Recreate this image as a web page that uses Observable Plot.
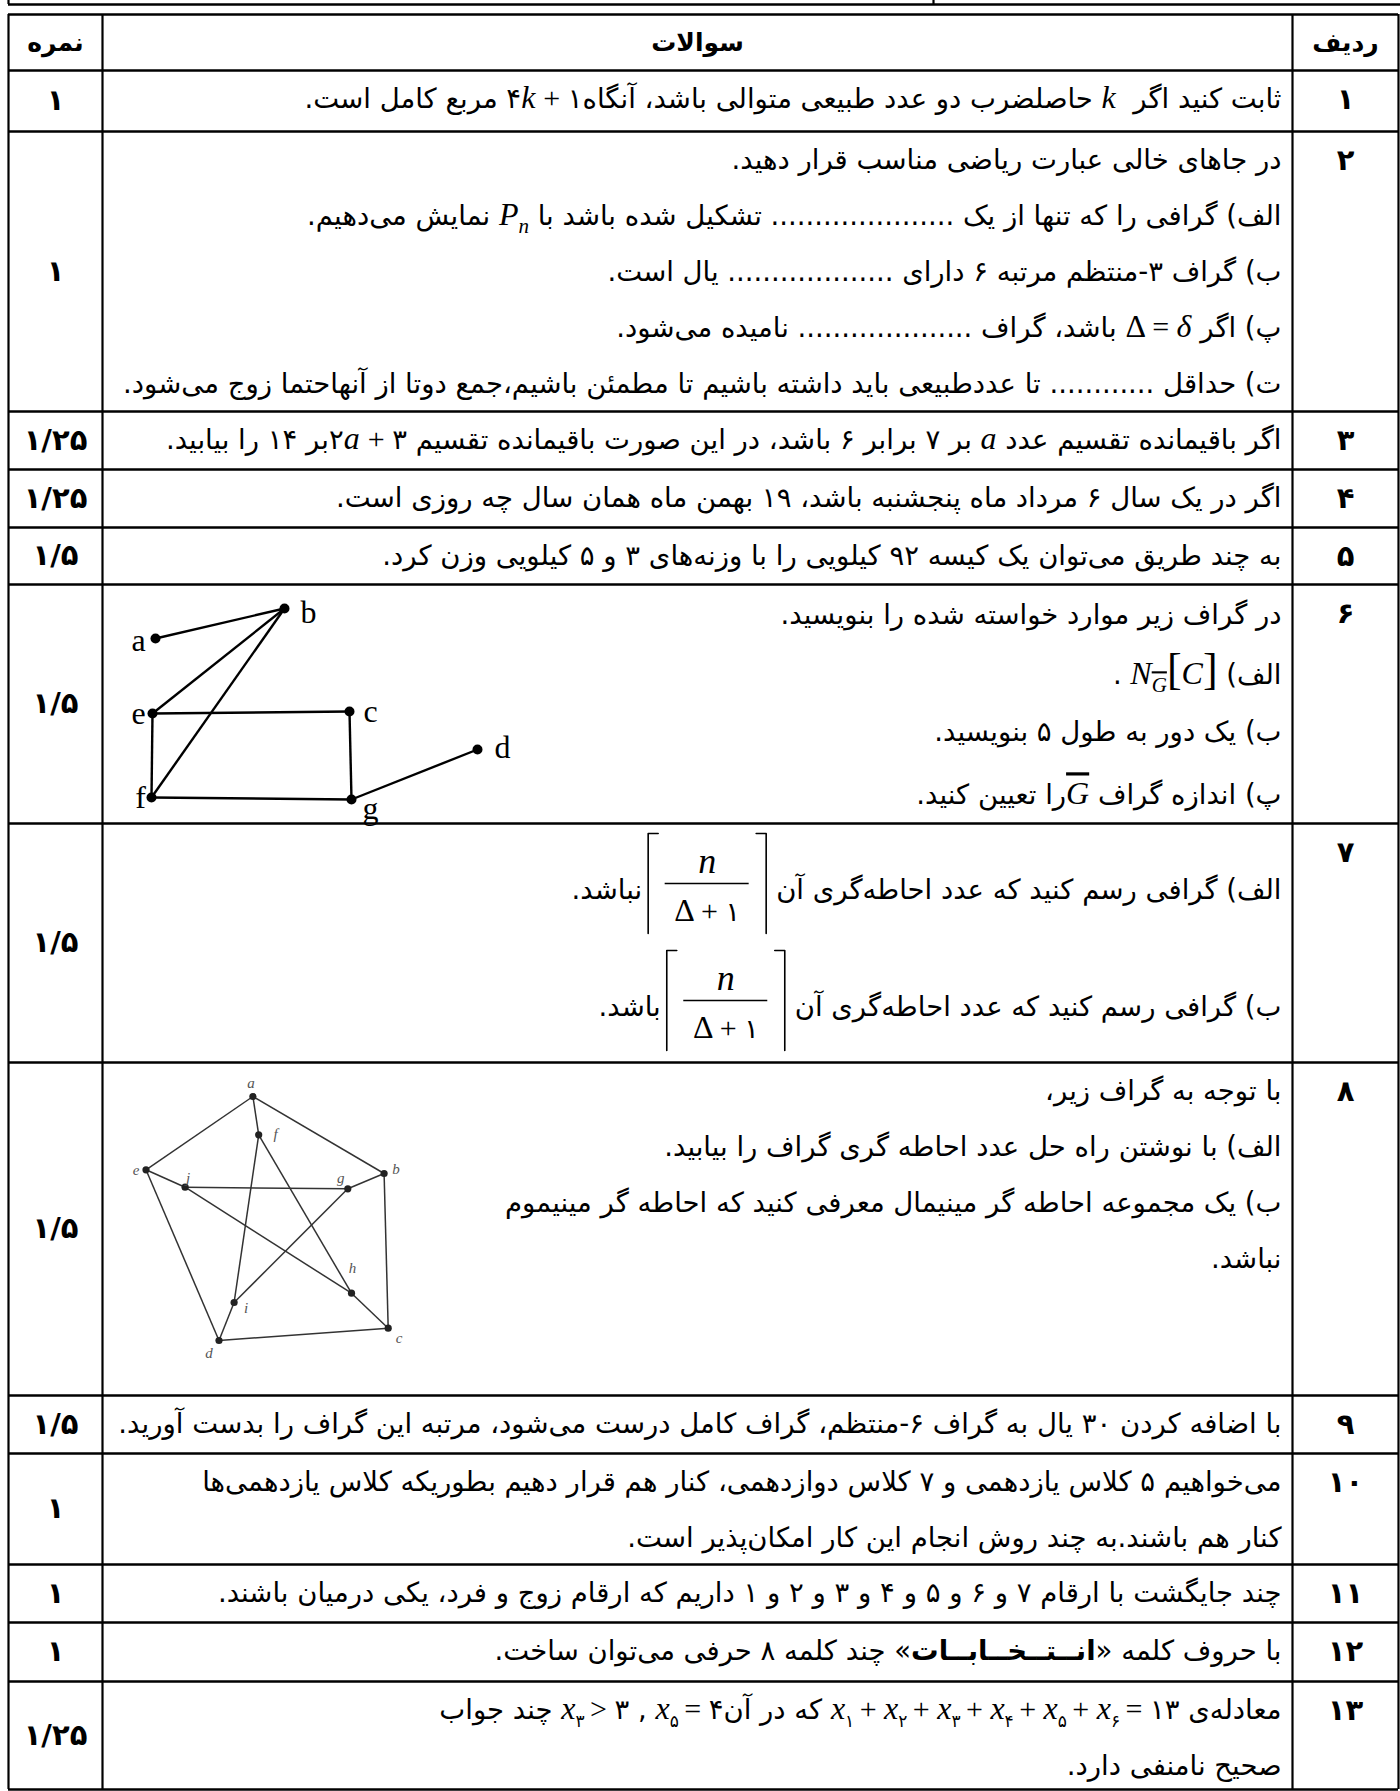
<!DOCTYPE html>
<html><head><meta charset="utf-8">
<script src="https://cdn.jsdelivr.net/npm/d3@7"></script>
<script src="https://cdn.jsdelivr.net/npm/@observablehq/plot@0.6"></script>
<style>
html,body{margin:0;padding:0;background:#fff;}
#chart svg{display:block;}
</style></head><body><div id="chart"></div>
<script>
// ---------------- data ----------------
const headerLabels = ["نمره", "سوالات", "ردیف"];
const rowNumbers = ["۱","۲","۳","۴","۵","۶","۷","۸","۹","۱۰","۱۱","۱۲","۱۳"];
const scores = ["۱","۱","۱/۲۵","۱/۲۵","۱/۵","۱/۵","۱/۵","۱/۵","۱/۵","۱","۱","۱","۱/۲۵"];
const questionLines = [
  ["ثابت کنید اگر  $k$ حاصلضرب دو عدد طبیعی متوالی باشد، آنگاه$۴k + ۱$ مربع کامل است."],
  ["در جاهای خالی عبارت ریاضی مناسب قرار دهید.",
   "الف) گرافی را که تنها از یک ..................... تشکیل شده باشد با $P_n$ نمایش می‌دهیم.",
   "ب) گراف ۳-منتظم مرتبه ۶ دارای ................... یال است.",
   "پ) اگر $Δ = δ$ باشد، گراف .................... نامیده می‌شود.",
   "ت) حداقل ............ تا عددطبیعی باید داشته باشیم تا مطمئن باشیم،جمع دوتا از آنهاحتما زوج می‌شود."],
  ["اگر باقیمانده تقسیم عدد $a$ بر ۷ برابر ۶ باشد، در این صورت باقیمانده تقسیم $۲a + ۳$بر ۱۴ را بیابید."],
  ["اگر در یک سال ۶ مرداد ماه پنجشنبه باشد، ۱۹ بهمن ماه همان سال چه روزی است."],
  ["به چند طریق می‌توان یک کیسه ۹۲ کیلویی را با وزنه‌های ۳ و ۵ کیلویی وزن کرد."],
  ["در گراف زیر موارد خواسته شده را بنویسید.",
   "الف) $N_{~G}[C]$ .",
   "ب) یک دور به طول ۵ بنویسید.",
   "پ) اندازه گراف $~G$را تعیین کنید."],
  [],
  ["با توجه به گراف زیر،",
   "الف) با نوشتن راه حل عدد احاطه گری گراف را بیابید.",
   "ب) یک مجموعه احاطه گر مینیمال معرفی کنید که احاطه گر مینیموم",
   "نباشد."],
  ["با اضافه کردن ۳۰ یال به گراف ۶-منتظم، گراف کامل درست می‌شود، مرتبه این گراف را بدست آورید."],
  ["می‌خواهیم ۵ کلاس یازدهمی و ۷ کلاس دوازدهمی، کنار هم قرار دهیم بطوریکه کلاس یازدهمی‌ها",
   "کنار هم باشند.به چند روش انجام این کار امکان‌پذیر است."],
  ["چند جایگشت با ارقام ۷ و ۶ و ۵ و ۴ و ۳ و ۲ و ۱ داریم که ارقام زوج و فرد، یکی درمیان باشند."],
  ["با حروف کلمه «**انــتــخــابــات**» چند کلمه ۸ حرفی می‌توان ساخت."],
  ["معادله‌ی $x_۱ + x_۲ + x_۳ + x_۴ + x_۵ + x_۶ = ۱۳$ که در آن$x_۵ = ۴$ , $x_۳ > ۳$ چند جواب",
   "صحیح نامنفی دارد."]
];
const q7Prefixes = ["الف) گرافی رسم کنید که عدد احاطه‌گری آن", "ب) گرافی رسم کنید که عدد احاطه‌گری آن"];
const q7Suffixes = ["نباشد.", "باشد."];
const q7Numerator = "n";
const q7Denominator = "$Δ + ۱$";

// graph of question 6 (node positions, local frame)
const q6Names = ["a","b","c","d","e","f","g"];
const q6X = [53, 182, 247, 375, 50, 49, 249];
const q6Y = [54, 24, 127, 165, 129, 213, 215];
const q6LabelDX = [-17, 24, 21, 25, -14, -11, 19];
const q6LabelDY = [2, 4, 0, -2, 0, 0, 9];
const q6Edges = [["a","b"],["b","e"],["b","f"],["e","c"],["e","f"],["c","g"],["f","g"],["g","d"]];

// graph of question 8 (Petersen graph)
const q8Names = ["a","b","c","d","e","f","g","h","i","j"];
const q8X = [150.4, 281.6, 285.7, 116.5, 43.5, 156.2, 245.3, 249, 131.6, 82.6];
const q8Y = [34, 111, 265.7, 278, 107.3, 72.3, 126.3, 230.7, 240, 124.7];
const q8LabelDX = [-2, 12, 11, -10, -10, 17, -7, 1, 12, 3];
const q8LabelDY = [-13, -4, 10, 13, 0, -1, -11, -25, 6, -9];
const q8Edges = [["a","b"],["b","c"],["c","d"],["d","e"],["e","a"],["a","f"],["b","g"],["c","h"],["d","i"],["e","j"],
                 ["f","i"],["f","h"],["g","j"],["g","i"],["h","j"]];

// ---------------- layout ----------------
const W = 1400, H = 1791;
const FONT = "DejaVu Sans", MATH = "Liberation Serif";
const textSize = 27.5;
const tableLeft = 8, scoreRight = 102, rowNumLeft = 1292, tableRight = 1398;
const tableTop = 14, headerBottom = 70;
const rowBottoms = [131, 411, 469, 527, 584, 823, 1062, 1395, 1453, 1564, 1622, 1681, 1789];
const rowTops = [headerBottom, ...rowBottoms.slice(0, -1)];
const textRight = 1281;
const lineStep = 56;
const customOffsets = {5: [31, 91, 148, 211]};
const q7BarY = [883, 1000];

const scoreX = (tableLeft + scoreRight) / 2;
const rowNumX = (rowNumLeft + tableRight) / 2;
const questionX = (scoreRight + rowNumLeft) / 2;

const rowsTable = rowNumbers.map((n, i) => ({
  n, score: scores[i], top: rowTops[i], bottom: rowBottoms[i],
  mid: (rowTops[i] + rowBottoms[i]) / 2
}));

const lineTable = [];
questionLines.forEach((lines, r) => {
  lines.forEach((t, i) => {
    const off = customOffsets[r] ? customOffsets[r][i] : 29 + lineStep * i;
    lineTable.push({text: t, y: rowTops[r] + off});
  });
});

// question 7: measure prefix to place fraction
const ctx = document.createElement("canvas").getContext("2d");
ctx.font = `${textSize}px "${FONT}"`;
const fracW = 118, fracHalf = 50, tick = 10;
const q7 = q7Prefixes.map((p, i) => {
  const wp = ctx.measureText(p).width;
  const rb = textRight - wp - 10;
  const lb = rb - fracW;
  return {prefix: p, suffix: q7Suffixes[i], bar: q7BarY[i], rb, lb, cx: (lb + rb) / 2, sufX: lb - 6};
});
const brackets = [];
q7.forEach((f, i) => {
  const t = f.bar - fracHalf, b = f.bar + fracHalf;
  brackets.push({id: `L${i}`, x: f.lb + tick, y: t}, {id: `L${i}`, x: f.lb, y: t}, {id: `L${i}`, x: f.lb, y: b});
  brackets.push({id: `R${i}`, x: f.rb - tick, y: t}, {id: `R${i}`, x: f.rb, y: t}, {id: `R${i}`, x: f.rb, y: b});
});

// graphs in page frame
const q6Origin = [scoreRight, rowTops[5]];
const q8Origin = [scoreRight, rowTops[7]];
const q6Nodes = q6Names.map((n, i) => ({n, x: q6Origin[0] + q6X[i], y: q6Origin[1] + q6Y[i], lx: q6Origin[0] + q6X[i] + q6LabelDX[i], ly: q6Origin[1] + q6Y[i] + q6LabelDY[i]}));
const q8Nodes = q8Names.map((n, i) => ({n, x: q8Origin[0] + q8X[i], y: q8Origin[1] + q8Y[i], lx: q8Origin[0] + q8X[i] + q8LabelDX[i], ly: q8Origin[1] + q8Y[i] + q8LabelDY[i]}));
const byName = (nodes) => Object.fromEntries(nodes.map(d => [d.n, d]));
const q6Map = byName(q6Nodes), q8Map = byName(q8Nodes);
const q6Links = q6Edges.map(([s, t]) => ({s: q6Map[s], t: q6Map[t]}));
const q8Links = q8Edges.map(([s, t]) => ({s: q8Map[s], t: q8Map[t]}));

const hLines = [tableTop, headerBottom, ...rowBottoms];

const svg = Plot.plot({
  width: W, height: H, margin: 0,
  x: {domain: [0, W], range: [0, W], axis: null},
  y: {domain: [0, H], range: [0, H], axis: null},
  style: {background: "white", fontFamily: FONT, color: "black"},
  marks: [
    // strip at the very top
    Plot.ruleY([4], {x1: tableLeft, x2: 1402, stroke: "black", strokeWidth: 2.5}),
    Plot.ruleX([tableLeft, 933], {y1: 0, y2: 4, stroke: "black", strokeWidth: 2.2}),
    // table grid
    Plot.ruleY(hLines, {x1: tableLeft, x2: tableRight, stroke: "black", strokeWidth: 2.5}),
    Plot.ruleX([tableLeft, scoreRight, rowNumLeft, tableRight], {y1: tableTop, y2: rowBottoms[rowBottoms.length - 1], stroke: "black", strokeWidth: 2.2}),
    // header
    Plot.text(headerLabels, {x: (d, i) => [scoreX, questionX, rowNumX][i], y: (tableTop + headerBottom) / 2, text: d => d, fontWeight: "bold", fontSize: 25}),
    // row numbers and scores
    Plot.text(rowsTable, {x: rowNumX, y: d => d.top + 29, text: "n", fontWeight: "bold", fontSize: 29}),
    Plot.text(rowsTable, {x: scoreX, y: "mid", text: "score", fontWeight: "bold", fontSize: 29}),
    // question text (right aligned, RTL)
    Plot.text(lineTable, {x: textRight, y: "y", text: "text", textAnchor: "start", fontSize: textSize}),
    // question 7
    Plot.text(q7, {x: textRight, y: d => d.bar + 7, text: "prefix", textAnchor: "start", fontSize: textSize}),
    Plot.text(q7, {x: "sufX", y: d => d.bar + 7, text: "suffix", textAnchor: "start", fontSize: textSize}),
    Plot.line(brackets, {x: "x", y: "y", z: "id", stroke: "black", strokeWidth: 1.6}),
    Plot.ruleY(q7, {y: "bar", x1: d => d.lb + 17, x2: d => d.rb - 17, stroke: "black", strokeWidth: 1.4}),
    Plot.text(q7, {x: "cx", y: d => d.bar - 22, text: () => q7Numerator, fontFamily: MATH, fontStyle: "italic", fontSize: 36}),
    Plot.text(q7, {x: "cx", y: d => d.bar + 29, text: () => q7Denominator, fontSize: 27}),
    // question 6 graph
    Plot.link(q6Links, {x1: d => d.s.x, y1: d => d.s.y, x2: d => d.t.x, y2: d => d.t.y, stroke: "black", strokeWidth: 2.4}),
    Plot.dot(q6Nodes, {x: "x", y: "y", r: 5, fill: "black"}),
    Plot.text(q6Nodes, {x: "lx", y: "ly", text: "n", fontFamily: MATH, fontSize: 32}),
    // question 8 graph
    Plot.link(q8Links, {x1: d => d.s.x, y1: d => d.s.y, x2: d => d.t.x, y2: d => d.t.y, stroke: "#333", strokeWidth: 1.5}),
    Plot.dot(q8Nodes, {x: "x", y: "y", r: 3.6, fill: "#222"}),
    Plot.text(q8Nodes, {x: "lx", y: "ly", text: "n", fontFamily: MATH, fontStyle: "italic", fontSize: 15, fill: "#555"})
  ]
});

// ---------------- rich text (math runs, bold runs) ----------------
// Each line becomes a list of segments {t, a}. Every math character is its own
// tspan, and the bidi isolate controls ride on the first/last math segment, so
// no node mixes text from both sides of a math run.
const SVGNS = "http://www.w3.org/2000/svg";
function mathSegments(m) {
  const segs = [];
  let i = 0, over = false;
  const letter = (size) => ({"font-family": MATH, "font-style": "italic", "font-size": size});
  while (i < m.length) {
    const c = m[i];
    if (c === "_") {
      let content;
      if (m[i + 1] === "{") { const j = m.indexOf("}", i); content = m.slice(i + 2, j); i = j + 1; }
      else { content = m[i + 1]; i += 2; }
      let ov = false;
      for (const ch of content) {
        if (ch === "~") { ov = true; continue; }
        const a = /[A-Za-z]/.test(ch) ? letter(21) : {"font-size": 17};
        a["baseline-shift"] = "-8";
        if (ov) { a["text-decoration"] = "overline"; ov = false; }
        segs.push({t: ch, a});
      }
      continue;
    }
    if (c === "~") { over = true; i++; continue; }
    if (c === " ") {
      if (segs.length) segs[segs.length - 1].t += " ";
      i++; continue;
    }
    if (/[A-Za-zδ]/.test(c)) {
      const a = letter(32);
      if (over) { a["text-decoration"] = "overline"; over = false; }
      segs.push({t: c, a});
    } else if (c === "Δ") segs.push({t: c, a: {"font-family": MATH, "font-size": 32}});
    else if ("[]".includes(c)) segs.push({t: c, a: {"font-family": MATH, "font-size": 44}});
    else if ("+=>,".includes(c)) segs.push({t: c, a: {"font-family": MATH, "font-size": 30}});
    else segs.push({t: c, a: {}});
    i++;
  }
  if (segs.length) {
    segs[0].t = "\u2066" + segs[0].t;
    segs[segs.length - 1].t = segs[segs.length - 1].t + "\u2069";
  }
  return segs;
}
function richify(el) {
  const s = el.textContent;
  const segs = [];
  for (const p of s.split(/(\$[^$]*\$|\*\*[^*]*\*\*)/)) {
    if (!p) continue;
    if (p.startsWith("$")) segs.push(...mathSegments(p.slice(1, -1)));
    else if (p.startsWith("**")) segs.push({t: p.slice(2, -2), a: {"font-weight": "bold"}});
    else segs.push({t: p, a: null});
  }
  el.textContent = "";
  for (const sg of segs) {
    if (!sg.a) { el.appendChild(document.createTextNode(sg.t)); continue; }
    const t = document.createElementNS(SVGNS, "tspan");
    for (const k in sg.a) {
      if (k === "text-decoration") t.style.textDecoration = sg.a[k];
      else t.setAttribute(k, sg.a[k]);
    }
    t.textContent = sg.t;
    el.appendChild(t);
  }
}
svg.querySelectorAll("text").forEach(el => {
  const s = el.textContent;
  if (/[\u0600-\u06FF]/.test(s)) el.setAttribute("direction", "rtl");
  if (/\$|\*\*/.test(s)) richify(el);
});

document.getElementById("chart").appendChild(svg);
svg.querySelectorAll("text").forEach(el => {
  el.setAttribute("font-size", parseFloat(getComputedStyle(el).fontSize));
});
</script>
</body></html>
